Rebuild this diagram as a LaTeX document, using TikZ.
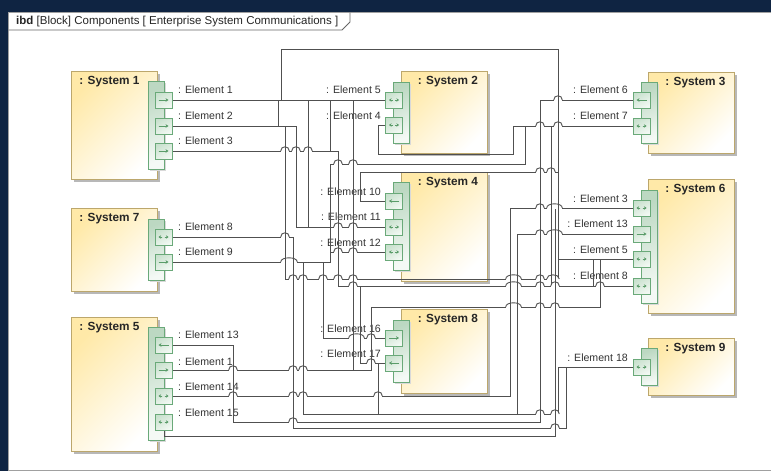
\documentclass[tikz,border=0pt]{standalone}
\usepackage{fontspec}
\setmainfont{Liberation Sans}
\usetikzlibrary{arrows.meta,shadows}
\definecolor{navy}{HTML}{0F2442}
\definecolor{wirec}{HTML}{505050}
\definecolor{blkborder}{HTML}{BCA76C}
\definecolor{blkA}{HTML}{FFE9A8}
\definecolor{strA}{HTML}{BCD8C2}
\definecolor{strB}{HTML}{F4F9F5}
\definecolor{portA}{HTML}{C9E1CE}
\definecolor{portB}{HTML}{F1F8F2}
\definecolor{grn}{HTML}{6AA979}
\definecolor{glyc}{HTML}{5A9C69}
\definecolor{txt}{HTML}{333333}
\definecolor{framec}{HTML}{A0A0A0}

\newcommand{\hp}[3]{%
  \fill[white] ({#2-4.3},{#1-1.4}) rectangle ({#3+4.3},{#1+1.4});
  \draw[wire] (#2,{#1-2}) -- (#2,{#1+2});
  \draw[wire] (#3,{#1-2}) -- (#3,{#1+2});
  \draw[wire] ({#2-4.3},#1) .. controls ({#2-4.3},{#1-5.6}) and ({#3+4.3},{#1-5.6}) .. ({#3+4.3},#1);}
\newcommand{\glyR}[1]{\draw[glyph,-{Stealth[length=3pt,width=3.6pt]}] ([xshift=-5pt]#1.center) -- ([xshift=5pt]#1.center);}
\newcommand{\glyL}[1]{\draw[glyph,-{Stealth[length=3pt,width=3.6pt]}] ([xshift=5pt]#1.center) -- ([xshift=-5pt]#1.center);}
\newcommand{\glyB}[1]{\draw[glyph,-{Stealth[length=2.6pt,width=3.6pt]}] ([xshift=-1.2pt]#1.center) -- ([xshift=-5pt]#1.center);
  \draw[glyph,-{Stealth[length=2.6pt,width=3.6pt]}] ([xshift=1.2pt]#1.center) -- ([xshift=5pt]#1.center);}
\newcommand{\prt}[4]{\node[port] (#1) at (#2,#3) {}; \csname gly#4\endcsname{#1}}

\begin{document}
\begin{tikzpicture}[x=1pt,y=-1pt,
  wire/.style={draw=wirec,line width=0.9pt},
  blk/.style={draw=blkborder,line width=0.8pt,top color=blkA,bottom color=white,shading angle=45,inner sep=0,
    drop shadow={shadow xshift=3pt,shadow yshift=-3pt,fill=black!28,opacity=1}},
  strip/.style={draw=grn,line width=0.8pt,top color=strA,bottom color=strB,shading angle=20,inner sep=0,minimum width=16pt,
    drop shadow={shadow xshift=2pt,shadow yshift=-2pt,fill=black!15,opacity=1}},
  port/.style={draw=grn,line width=0.8pt,top color=portA,bottom color=portB,shading angle=30,inner sep=0,minimum width=17pt,minimum height=16pt},
  glyph/.style={draw=glyc,fill=glyc,line width=0.6pt},
  ttl/.style={font=\fontsize{11.8}{13}\selectfont\bfseries,text=black!85,inner sep=0,anchor=base},
  lbl/.style={font=\fontsize{10.6}{12}\selectfont,text=txt,inner sep=0},
  lw/.style={lbl,anchor=base west},
  le/.style={lbl,anchor=base east}]
\useasboundingbox (0,0) rectangle (771,471);
\fill[navy] (0,0) rectangle (771,471);
\fill[white] (8,12) rectangle (771,471);
\draw[framec,line width=0.8pt] (771,12.5) -- (8.5,12.5) -- (8.5,470.5) -- (771,470.5);
\draw[black!60,line width=0.8pt] (8.5,30) -- (342,30) -- (350,22) -- (350,12.5);
\node[anchor=base west,font=\fontsize{11.5}{13}\selectfont,inner sep=0,text=black!85] (hdr) at (16,24.5) {\textbf{ibd} [Block] Components [ Enterprise System Communications ]};

% blocks
\node[blk,minimum width=86pt,minimum height=108pt,anchor=north west] (S1) at (71,71) {};
\node[blk,minimum width=86pt,minimum height=83pt,anchor=north west] (S7) at (71,208) {};
\node[blk,minimum width=86pt,minimum height=134pt,anchor=north west] (S5) at (71,317) {};
\node[blk,minimum width=86pt,minimum height=82pt,anchor=north west] (S2) at (401,71) {};
\node[blk,minimum width=86pt,minimum height=109pt,anchor=north west] (S4) at (401,172) {};
\node[blk,minimum width=86pt,minimum height=84pt,anchor=north west] (S8) at (401,309) {};
\node[blk,minimum width=86pt,minimum height=81pt,anchor=north west] (S3) at (648,72) {};
\node[blk,minimum width=86pt,minimum height=134pt,anchor=north west] (S6) at (648,179) {};
\node[blk,minimum width=86pt,minimum height=57pt,anchor=north west] (S9) at (648,338) {};

\node[ttl] (t1) at (109.5,84.5) {: System 1};
\node[ttl] (t7) at (109.5,221.5) {: System 7};
\node[ttl] (t5) at (109.5,330.5) {: System 5};
\node[ttl] (t2) at (448,84.5) {: System 2};
\node[ttl] (t4) at (448,185.5) {: System 4};
\node[ttl] (t8) at (448,322.5) {: System 8};
\node[ttl] (t3) at (695.5,85) {: System 3};
\node[ttl] (t6) at (695.5,192) {: System 6};
\node[ttl] (t9) at (695.5,351) {: System 9};

% port strips
\node[strip,minimum height=88pt,anchor=north west] (S1s) at (148,81) {};
\node[strip,minimum height=61pt,anchor=north west] (S7s) at (148,219) {};
\node[strip,minimum height=113pt,anchor=north west] (S5s) at (148,327) {};
\node[strip,minimum height=61pt,anchor=north west] (S2s) at (393,82) {};
\node[strip,minimum height=88pt,anchor=north west] (S4s) at (393,182) {};
\node[strip,minimum height=62pt,anchor=north west] (S8s) at (393,320) {};
\node[strip,minimum height=61pt,anchor=north west] (S3s) at (641,82) {};
\node[strip,minimum height=113pt,anchor=north west] (S6s) at (641,190) {};
\node[strip,minimum height=37pt,anchor=north west] (S9s) at (641,348) {};

% labels
\node[lw] at (178,93) {: Element 1};
\node[lw] at (178,119) {: Element 2};
\node[lw] at (178,144) {: Element 3};
\node[lw] at (178,230) {: Element 8};
\node[lw] at (178,255) {: Element 9};
\node[lw] at (178,338) {: Element 13};
\node[lw] at (178,365) {: Element 1};
\node[lw] at (178,390) {: Element 14};
\node[lw] at (178,416) {: Element 15};
\node[le] at (381,93) {: Element 5};
\node[le] at (381,119) {: Element 4};
\node[le] at (381,195) {: Element 10};
\node[le] at (381,220) {: Element 11};
\node[le] at (381,246) {: Element 12};
\node[le] at (381,332) {: Element 16};
\node[le] at (381,357) {: Element 17};
\node[le] at (628,93) {: Element 6};
\node[le] at (628,119) {: Element 7};
\node[le] at (628,202) {: Element 3};
\node[le] at (628,227) {: Element 13};
\node[le] at (628,253) {: Element 5};
\node[le] at (628,279) {: Element 8};
\node[le] at (628,361) {: Element 18};

% port edge coordinates
\coordinate (s1a) at (172,100); \coordinate (s1b) at (172,126); \coordinate (s1c) at (172,151);
\coordinate (s7a) at (172,237); \coordinate (s7b) at (172,262);
\coordinate (s5a) at (172,345); \coordinate (s5b) at (172,370); \coordinate (s5c) at (172,396);
\coordinate (s2a) at (386,100); \coordinate (s2b) at (386,125);
\coordinate (s4a) at (386,201); \coordinate (s4b) at (386,227); \coordinate (s4c) at (386,252);
\coordinate (s8a) at (386,338); \coordinate (s8b) at (386,363);
\coordinate (s3a) at (633,100); \coordinate (s3b) at (633,126);
\coordinate (s6a) at (633,208); \coordinate (s6b) at (633,234); \coordinate (s6c) at (633,259); \coordinate (s6d) at (633,286);
\coordinate (s9a) at (633,367);

% wires
\draw[wire] (s1a) -- (s2a);
\draw[wire] (281,100) -- (281,49) -- (558,49) -- (558,259) -- (s6c);
\draw[wire] (285,126) -- (285,279) -- (558,279) -- (558,259);
\draw[wire] (s1b) -- (296,126) -- (296,227) -- (s4b);
\draw[wire] (278,100) -- (278,126);
\draw[wire] (308,100) -- (308,227);
\draw[wire] (s1c) -- (338,151) -- (338,286) -- (s6d);
\draw[wire] (330,100) -- (330,151);
\draw[wire] (s7b) -- (330,262) -- (330,164) -- (525,164) -- (525,126);
\draw[wire] (330,252) -- (s4c);
\draw[wire] (s7a) -- (293,237) -- (293,428) -- (566,428) -- (566,367);
\draw[wire] (s2b) -- (378,125) -- (378,154) -- (513,154) -- (513,126) -- (s3b);
\draw[wire] (s4a) -- (360,201) -- (360,172) -- (558,172);
\draw[wire] (323,262) -- (323,338) -- (s8a);
\draw[wire] (s8b) -- (360,363) -- (360,286);
\draw[wire] (378,363) -- (378,414);
\draw[wire] (s5b) -- (353,370) -- (353,100);
\draw[wire] (353,370) -- (371,370) -- (371,307) -- (600,307) -- (600,259);
\draw[wire] (s5a) -- (233,345) -- (233,422) -- (540,422) -- (540,100) -- (s3a);
\draw[wire] (s5c) -- (510,396) -- (510,208) -- (s6a);
\draw[wire] (s6b) -- (517,234) -- (517,414);
\draw[wire] (303,262) -- (303,414) -- (558,414) -- (558,367) -- (s9a);
\draw[wire] (164,430) -- (164,436) -- (555,436) -- (555,208);
\draw[wire] (551,126) -- (551,286);
\draw[wire] (593,259) -- (593,286);

% line hops
\hp{151}{285}{285}\hp{151}{296}{296}\hp{151}{308}{308}
\hp{164}{338}{338}\hp{164}{353}{353}
\hp{172}{540}{540}\hp{172}{551}{551}
\hp{126}{540}{540}\hp{126}{558}{558}
\hp{100}{558}{558}
\hp{208}{540}{540}\hp{208}{551}{558}
\hp{227}{338}{338}\hp{227}{353}{353}
\hp{234}{540}{540}\hp{234}{551}{558}\draw[wire] (555,232) -- (555,236);
\hp{237}{285}{285}
\hp{252}{338}{338}\hp{252}{353}{353}
\hp{262}{285}{293}
\hp{279}{293}{293}\hp{279}{303}{303}\hp{279}{323}{323}\hp{279}{338}{338}\hp{279}{353}{353}
\hp{279}{510}{517}\hp{279}{540}{540}\hp{279}{551}{555}
\hp{286}{353}{353}\hp{286}{510}{517}\hp{286}{540}{540}\hp{286}{555}{555}\hp{286}{600}{600}
\hp{307}{510}{517}\hp{307}{540}{540}\hp{307}{555}{555}
\hp{338}{353}{360}\hp{338}{371}{371}
\hp{363}{371}{371}
\hp{370}{233}{233}\hp{370}{293}{293}\hp{370}{303}{303}
\hp{396}{233}{233}\hp{396}{293}{293}\hp{396}{303}{303}\hp{396}{378}{378}
\hp{414}{540}{540}\hp{414}{555}{555}
\hp{422}{293}{293}
\hp{428}{555}{555}

% ports on top
\prt{p1a}{163.5}{100}{R}\prt{p1b}{163.5}{126}{R}\prt{p1c}{163.5}{151}{R}
\prt{p7a}{163.5}{237}{B}\prt{p7b}{163.5}{262}{R}
\prt{p5a}{163.5}{345}{L}\prt{p5b}{163.5}{370}{R}\prt{p5c}{163.5}{396}{B}\prt{p5d}{163.5}{422}{B}
\prt{p2a}{394}{100}{B}\prt{p2b}{394}{125}{B}
\prt{p4a}{394}{201}{L}\prt{p4b}{394}{227}{B}\prt{p4c}{394}{252}{B}
\prt{p8a}{394}{338}{R}\prt{p8b}{394}{363}{L}
\prt{p3a}{641.5}{100}{L}\prt{p3b}{641.5}{126}{B}
\prt{p6a}{641.5}{208}{B}\prt{p6b}{641.5}{234}{R}\prt{p6c}{641.5}{259}{B}\prt{p6d}{641.5}{286}{B}
\prt{p9a}{641.5}{367}{B}
\end{tikzpicture}
\end{document}
